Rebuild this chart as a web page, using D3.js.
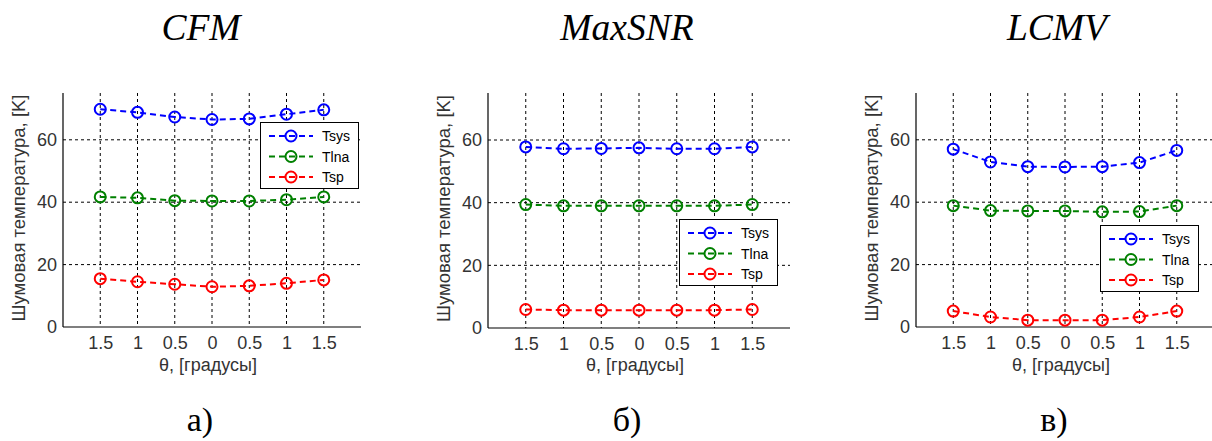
<!DOCTYPE html>
<html>
<head>
<meta charset="utf-8">
<script src="https://cdn.jsdelivr.net/npm/d3@7"></script>
<style>
  html, body { margin: 0; padding: 0; background: #fff; }
  svg { display: block; }
</style>
</head>
<body>
<svg id="chart" width="1212" height="441"></svg>
<script>
// ---- data ----
const xTickLabels = ["1.5", "1", "0.5", "0", "0.5", "1", "1.5"];
const yTicks = [0, 20, 40, 60];
const seriesNames = ["Tsys", "Tlna", "Tsp"];
const titles = ["CFM", "MaxSNR", "LCMV"];
const subLabels = ["а)", "б)", "в)"];

const cfmTsys = [69.8, 68.8, 67.3, 66.5, 66.7, 68.2, 69.6];
const cfmTlna = [41.7, 41.4, 40.5, 40.4, 40.4, 40.8, 41.7];
const cfmTsp  = [15.5, 14.5, 13.7, 12.9, 13.2, 14.0, 15.1];

const maxsnrTsys = [57.8, 57.2, 57.3, 57.5, 57.2, 57.2, 57.8];
const maxsnrTlna = [39.4, 39.0, 39.0, 39.0, 39.0, 39.0, 39.4];
const maxsnrTsp  = [5.9, 5.7, 5.7, 5.7, 5.7, 5.7, 5.9];

const lcmvTsys = [57.0, 52.9, 51.4, 51.3, 51.4, 52.7, 56.6];
const lcmvTlna = [38.9, 37.3, 37.2, 37.2, 36.9, 37.0, 38.9];
const lcmvTsp  = [5.1, 3.2, 2.2, 2.2, 2.2, 3.2, 5.1];

const panelData = [
  [cfmTsys, cfmTlna, cfmTsp],
  [maxsnrTsys, maxsnrTlna, maxsnrTsp],
  [lcmvTsys, lcmvTlna, lcmvTsp]
];

// ---- layout / style ----
const colors = ["#0000ff", "#008000", "#ff0000"];
const panels = [
  {x0: 63,  x1: 361,  y0: 93, y1: 327, title: 201,  sub: 200,  leg: {x: 260,  y: 122}},
  {x0: 488, x1: 790,  y0: 93, y1: 328, title: 627,  sub: 627,  leg: {x: 679,  y: 219}},
  {x0: 916, x1: 1214, y0: 93, y1: 327, title: 1057, sub: 1054, leg: {x: 1100, y: 225}}
];
const tickFont = "'Liberation Sans', Arial, sans-serif";
const serif = "'Liberation Serif', 'Times New Roman', serif";
const textGray = "#333";

const svg = d3.select("#chart");

panels.forEach((p, pi) => {
  const g = svg.append("g");
  const x = d3.scaleLinear().domain([0, 8]).range([p.x0, p.x1]);
  const y = d3.scaleLinear().domain([0, 75]).range([p.y1, p.y0]);
  const idx = d3.range(1, 8);

  // grid vertical
  g.selectAll(".vg").data(idx).join("line")
    .attr("x1", d => x(d)).attr("x2", d => x(d))
    .attr("y1", y(75)).attr("y2", y(0))
    .attr("stroke", "#000").attr("stroke-width", 1)
    .attr("stroke-dasharray", "3,3");
  // grid horizontal
  g.selectAll(".hg").data(yTicks.filter(v => v > 0)).join("line")
    .attr("x1", x(0)).attr("x2", x(8))
    .attr("y1", d => y(d)).attr("y2", d => y(d))
    .attr("stroke", "#000").attr("stroke-width", 1)
    .attr("stroke-dasharray", "3,3");

  // axes
  const xAxis = d3.axisBottom(x).tickValues(idx)
    .tickFormat((d, i) => xTickLabels[i]).tickSize(0).tickPadding(9);
  const ax = g.append("g").attr("transform", `translate(0,${y(0)})`).call(xAxis);
  ax.select(".domain").remove();
  ax.selectAll("text").attr("font-family", tickFont).attr("font-size", 18).attr("fill", textGray);

  const yAxis = d3.axisLeft(y).tickValues(yTicks).tickSize(0).tickPadding(6);
  const ay = g.append("g").attr("transform", `translate(${x(0)},0)`).call(yAxis);
  ay.select(".domain").remove();
  ay.selectAll("text").attr("font-family", tickFont).attr("font-size", 18).attr("fill", textGray);

  g.append("line").attr("x1", x(0)).attr("x2", x(0)).attr("y1", y(75)).attr("y2", y(0))
    .attr("stroke", "#000").attr("stroke-width", 1.2);
  g.append("line").attr("x1", x(0)).attr("x2", x(8)).attr("y1", y(0)).attr("y2", y(0))
    .attr("stroke", "#000").attr("stroke-width", 1.2);

  // labels
  g.append("text").attr("x", (p.x0 + p.x1) / 2 - 4).attr("y", 371)
    .attr("text-anchor", "middle").attr("font-family", tickFont).attr("font-size", 18)
    .attr("fill", textGray).text("θ, [градусы]");
  g.append("text")
    .attr("transform", `translate(${p.x0 - 38},${(p.y0 + p.y1) / 2 - 2}) rotate(-90)`)
    .attr("text-anchor", "middle").attr("font-family", tickFont).attr("font-size", 18.5)
    .attr("fill", textGray).text("Шумовая температура, [K]");

  // series
  const line = d3.line().x((d, i) => x(i + 1)).y(d => y(d));
  panelData[pi].forEach((vals, si) => {
    g.append("path").attr("d", line(vals)).attr("fill", "none")
      .attr("stroke", colors[si]).attr("stroke-width", 2).attr("stroke-dasharray", "6,4");
    g.selectAll(null).data(vals).join("circle")
      .attr("cx", (d, i) => x(i + 1)).attr("cy", d => y(d)).attr("r", 5.5)
      .attr("fill", "none").attr("stroke", colors[si]).attr("stroke-width", 2);
  });

  // legend
  const lg = g.append("g").attr("transform", `translate(${p.leg.x},${p.leg.y})`);
  lg.append("rect").attr("x", 0.5).attr("y", 0.5).attr("width", 98).attr("height", 66)
    .attr("fill", "#fff").attr("stroke", "#000").attr("stroke-width", 1);
  seriesNames.forEach((name, si) => {
    const ry = 14 + si * 20.5;
    lg.append("line").attr("x1", 9).attr("x2", 53).attr("y1", ry).attr("y2", ry)
      .attr("stroke", colors[si]).attr("stroke-width", 2).attr("stroke-dasharray", "6,4");
    lg.append("circle").attr("cx", 31).attr("cy", ry).attr("r", 5.5)
      .attr("fill", "none").attr("stroke", colors[si]).attr("stroke-width", 2);
    lg.append("text").attr("x", 62).attr("y", ry + 5)
      .attr("font-family", tickFont).attr("font-size", 14).attr("fill", "#000").text(name);
  });

  // title & sub label
  svg.append("text").attr("x", p.title).attr("y", 40).attr("text-anchor", "middle")
    .attr("font-family", serif).attr("font-style", "italic").attr("font-size", 37.5)
    .attr("fill", "#000").text(titles[pi]);
  svg.append("text").attr("x", p.sub).attr("y", 431).attr("text-anchor", "middle")
    .attr("font-family", serif).attr("font-size", 34)
    .attr("fill", "#000").text(subLabels[pi]);
});
</script>
</body>
</html>
